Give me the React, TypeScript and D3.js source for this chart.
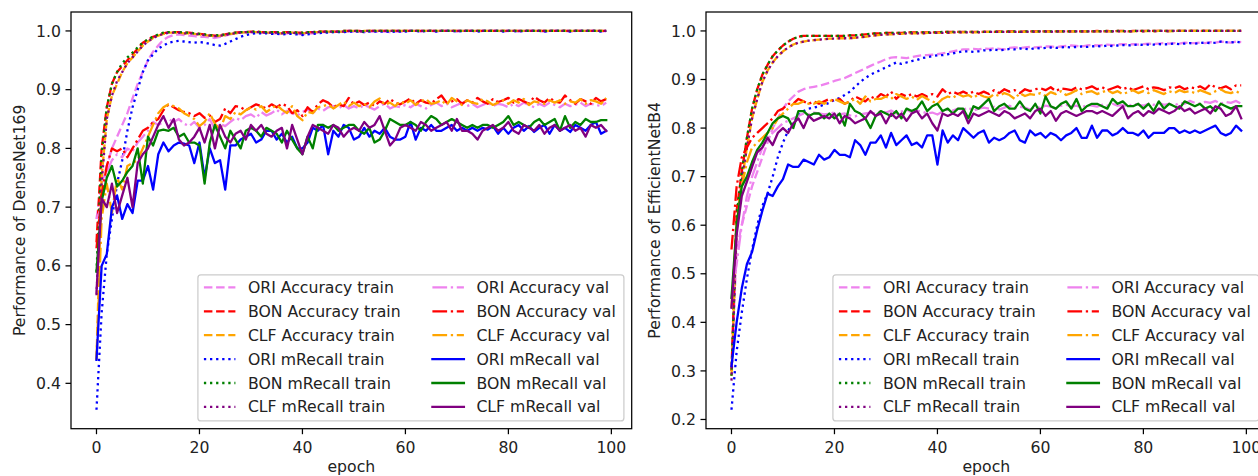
import React from 'react';
import * as d3 from 'd3';

// ---------- categories / ticks ----------
const epochs: number[] = d3.range(0, 100);
const xTicks = [0, 20, 40, 60, 80, 100];
const yTicksDense = [0.4, 0.5, 0.6, 0.7, 0.8, 0.9, 1.0];
const yTicksEff = [0.2, 0.3, 0.4, 0.5, 0.6, 0.7, 0.8, 0.9, 1.0];

const seriesLabels = [
  'ORI Accuracy train', 'BON Accuracy train', 'CLF Accuracy train',
  'ORI mRecall train', 'BON mRecall train', 'CLF mRecall train',
  'ORI Accuracy val', 'BON Accuracy val', 'CLF Accuracy val',
  'ORI mRecall val', 'BON mRecall val', 'CLF mRecall val',
];
const seriesColors = [
  '#ee82ee', '#ff0000', '#ffa500', '#0000ff', '#008000', '#800080',
  '#ee82ee', '#ff0000', '#ffa500', '#0000ff', '#008000', '#800080',
];
const seriesStyles = [
  'dashed', 'dashed', 'dashed', 'dotted', 'dotted', 'dotted',
  'dashdot', 'dashdot', 'dashdot', 'solid', 'solid', 'solid',
];

// ---------- DenseNet169 ----------
const dOriAccTrain = [
  .68,.74,.77,.80,.82,.84,.86,.885,.91,.93,
  .95,.965,.975,.985,.99,.993,.994,.993,.992,.991,
  .99,.99,.989,.988,.99,.992,.994,.996,.997,.998,
  .998,.998,.997,.997,.996,.996,.995,.996,.997,.995,
  .994,.995,.996,.997,.998,.998,.998,.999,.998,.999,
  .999,.999,.998,.999,.999,.999,.999,.998,.999,.999,
  .999,1,1,.999,1,1,.999,1,1,1,
  .999,1,1,1,.999,1,1,1,1,.999,
  1,1,.999,1,1,1,1,.999,1,1,
  1,1,.999,1,1,1,1,1,.999,1];
const dBonAccTrain = [
  .64,.80,.87,.91,.93,.94,.95,.96,.97,.98,
  .985,.99,.993,.996,.998,.998,.998,.997,.997,.996,
  .995,.994,.993,.992,.993,.994,.996,.997,.998,.998,
  .999,.999,.998,.998,.998,.998,.997,.998,.998,.997,
  .997,.998,.998,.999,.999,.999,.999,.999,1,1,
  1,1,.999,1,1,1,1,1,1,1,
  1,1,1,1,1,1,1,1,1,1,
  1,1,1,1,1,1,1,1,1,1,
  1,1,1,1,1,1,1,1,1,1,
  1,1,1,1,1,1,1,1,1,1];
const dClfAccTrain = [
  .44,.75,.85,.89,.91,.93,.945,.955,.965,.975,
  .982,.988,.992,.995,.997,.997,.997,.996,.996,.995,
  .994,.993,.992,.991,.992,.993,.995,.996,.997,.998,
  .998,.998,.998,.997,.997,.997,.996,.997,.997,.996,
  .996,.997,.998,.998,.999,.999,.999,.999,.999,1,
  1,.999,1,1,1,1,1,1,1,1,
  1,1,1,1,1,1,1,1,1,1,
  1,1,1,1,1,1,1,1,1,1,
  1,1,1,1,1,1,1,1,1,1,
  1,1,1,1,1,1,1,1,1,1];
const dOriRecTrain = [
  .355,.52,.62,.68,.74,.78,.83,.87,.90,.93,
  .95,.96,.97,.975,.98,.982,.983,.982,.981,.98,
  .981,.98,.978,.976,.975,.978,.982,.986,.99,.993,
  .995,.996,.996,.996,.995,.995,.994,.995,.995,.994,
  .993,.994,.995,.996,.997,.997,.998,.998,.998,.999,
  .999,.999,.998,.999,.999,.999,.999,.998,.999,.999,
  .999,1,1,.999,1,1,.999,1,1,1,
  .999,1,1,1,.999,1,1,1,1,.999,
  1,1,.999,1,1,1,1,.999,1,1,
  1,1,.999,1,1,1,1,1,.999,1];
const dBonRecTrain = [
  .59,.79,.87,.91,.93,.945,.955,.963,.972,.98,
  .986,.99,.994,.997,.998,.998,.998,.997,.997,.996,
  .995,.994,.993,.992,.993,.994,.996,.997,.998,.998,
  .999,.999,.998,.998,.998,.998,.997,.998,.998,.997,
  .997,.998,.998,.999,.999,.999,.999,.999,1,1,
  1,1,.999,1,1,1,1,1,1,1,
  1,1,1,1,1,1,1,1,1,1,
  1,1,1,1,1,1,1,1,1,1,
  1,1,1,1,1,1,1,1,1,1,
  1,1,1,1,1,1,1,1,1,1];
const dClfRecTrain = [
  .55,.74,.85,.89,.915,.93,.945,.955,.965,.975,
  .982,.988,.992,.995,.997,.997,.997,.996,.996,.995,
  .994,.993,.992,.991,.992,.993,.995,.996,.997,.998,
  .998,.998,.998,.997,.997,.997,.996,.997,.997,.996,
  .996,.997,.998,.998,.999,.999,.999,.999,.999,1,
  1,.999,1,1,1,1,1,1,1,1,
  1,1,1,1,1,1,1,1,1,1,
  1,1,1,1,1,1,1,1,1,1,
  1,1,1,1,1,1,1,1,1,1,
  1,1,1,1,1,1,1,1,1,1];
const dOriAccVal = [
  .68,.70,.76,.78,.79,.785,.80,.795,.81,.82,
  .83,.845,.84,.845,.85,.845,.85,.842,.838,.845,
  .835,.84,.85,.832,.842,.838,.845,.852,.848,.855,
  .858,.852,.862,.856,.86,.866,.858,.864,.86,.856,
  .862,.866,.86,.868,.864,.87,.872,.868,.874,.868,
  .872,.868,.874,.87,.866,.872,.876,.868,.872,.87,
  .874,.87,.876,.872,.868,.874,.878,.872,.876,.87,
  .874,.878,.872,.876,.87,.874,.878,.872,.876,.874,
  .87,.876,.872,.878,.874,.87,.876,.872,.878,.874,
  .87,.876,.872,.874,.878,.872,.876,.874,.872,.878];
const dBonAccVal = [
  .63,.72,.77,.80,.795,.80,.785,.80,.815,.83,
  .835,.845,.85,.865,.875,.87,.865,.862,.86,.855,
  .86,.852,.856,.845,.85,.868,.86,.872,.87,.865,
  .87,.875,.872,.868,.875,.87,.876,.872,.86,.865,
  .855,.87,.862,.875,.882,.878,.87,.875,.872,.886,
  .875,.88,.874,.878,.872,.88,.876,.884,.878,.875,
  .88,.885,.876,.882,.878,.876,.884,.89,.878,.88,
  .884,.876,.882,.878,.886,.88,.876,.884,.879,.882,
  .886,.878,.884,.88,.876,.888,.882,.878,.886,.88,
  .878,.89,.882,.876,.884,.88,.876,.886,.88,.884];
const dClfAccVal = [
  .44,.68,.74,.69,.75,.73,.77,.775,.78,.80,
  .82,.84,.86,.87,.875,.872,.868,.86,.855,.85,
  .838,.845,.86,.842,.832,.855,.85,.862,.858,.865,
  .87,.866,.872,.862,.868,.874,.866,.86,.872,.855,
  .848,.862,.86,.87,.872,.875,.868,.874,.88,.872,
  .878,.872,.876,.87,.88,.885,.874,.878,.872,.88,
  .876,.882,.874,.88,.884,.876,.878,.882,.874,.886,
  .88,.874,.882,.878,.876,.884,.88,.874,.878,.882,
  .876,.882,.878,.884,.874,.88,.878,.876,.882,.878,
  .882,.876,.88,.878,.884,.876,.882,.88,.876,.886];
const dOriRecVal = [
  .44,.60,.62,.70,.72,.68,.705,.69,.745,.745,
  .77,.73,.79,.81,.795,.805,.81,.808,.805,.775,
  .81,.75,.80,.775,.78,.73,.805,.805,.815,.82,
  .825,.81,.815,.83,.83,.815,.825,.81,.82,.80,
  .80,.81,.835,.83,.84,.79,.83,.82,.84,.835,
  .815,.82,.835,.82,.83,.825,.835,.82,.815,.815,
  .82,.845,.815,.835,.83,.84,.83,.83,.835,.84,
  .83,.835,.83,.835,.83,.835,.832,.838,.825,.835,
  .825,.835,.84,.83,.838,.828,.835,.84,.825,.84,
  .83,.835,.828,.84,.835,.83,.84,.845,.825,.83];
const dBonRecVal = [
  .59,.71,.75,.77,.735,.745,.76,.77,.80,.74,
  .82,.805,.83,.832,.83,.835,.82,.825,.81,.81,
  .805,.74,.81,.84,.82,.80,.83,.815,.80,.83,
  .835,.83,.82,.835,.83,.825,.81,.83,.815,.80,
  .79,.82,.80,.84,.84,.835,.84,.83,.835,.84,
  .84,.83,.825,.835,.81,.815,.83,.85,.845,.84,
  .84,.845,.84,.83,.845,.855,.85,.84,.845,.85,
  .845,.84,.835,.84,.835,.84,.84,.835,.84,.845,
  .855,.84,.845,.84,.835,.845,.85,.84,.845,.85,
  .83,.855,.835,.845,.84,.85,.845,.845,.848,.848];
const dClfRecVal = [
  .555,.715,.70,.74,.69,.72,.75,.70,.775,.79,
  .80,.82,.84,.855,.835,.85,.815,.805,.81,.82,
  .835,.81,.84,.80,.84,.82,.81,.825,.83,.815,
  .84,.83,.84,.825,.82,.83,.835,.80,.84,.815,
  .79,.82,.84,.835,.83,.825,.84,.835,.82,.83,
  .835,.83,.845,.835,.84,.855,.83,.805,.815,.835,
  .84,.835,.83,.845,.84,.83,.835,.84,.845,.83,
  .85,.83,.83,.825,.815,.83,.835,.84,.83,.835,
  .845,.83,.825,.84,.835,.83,.84,.825,.835,.84,
  .83,.835,.84,.83,.835,.82,.84,.835,.84,.83];

// ---------- EfficientNetB4 ----------
const eOriAccTrain = [
  .30,.55,.60,.64,.68,.71,.74,.77,.80,.82,
  .84,.855,.865,.875,.88,.883,.885,.887,.89,.893,
  .897,.90,.903,.908,.913,.918,.923,.928,.933,.937,
  .942,.945,.946,.945,.944,.946,.948,.95,.95,.951,
  .952,.954,.956,.958,.96,.962,.962,.963,.962,.964,
  .963,.964,.963,.962,.965,.966,.965,.966,.967,.966,
  .967,.968,.968,.967,.968,.969,.97,.969,.968,.97,
  .971,.97,.971,.972,.971,.972,.973,.972,.973,.972,
  .973,.974,.973,.974,.975,.974,.975,.974,.976,.975,
  .975,.976,.975,.977,.976,.978,.977,.976,.978,.977];
const eBonAccTrain = [
  .30,.63,.71,.78,.84,.88,.91,.93,.948,.96,
  .97,.978,.984,.988,.99,.99,.99,.99,.99,.99,
  .99,.99,.99,.991,.991,.992,.993,.994,.995,.995,
  .996,.996,.996,.996,.997,.997,.997,.997,.997,.997,
  .997,.998,.998,.998,.998,.998,.998,.998,.998,.998,
  .998,.998,.999,.998,.999,.999,.998,.999,.999,.999,
  .999,.999,.999,.999,.999,.999,.999,.999,.999,.999,
  .999,1,.999,1,.999,1,1,.999,1,1,
  1,1,1,1,1,1,1,1,1,1,
  1,1,1,1,1,1,1,1,1,1];
const eClfAccTrain = [
  .29,.60,.69,.76,.82,.86,.895,.918,.935,.948,
  .958,.966,.972,.976,.978,.98,.981,.982,.983,.984,
  .984,.985,.985,.985,.986,.987,.988,.99,.991,.992,
  .993,.993,.994,.994,.995,.995,.995,.995,.996,.996,
  .996,.996,.996,.997,.997,.997,.997,.997,.997,.998,
  .998,.998,.998,.998,.998,.998,.998,.998,.999,.998,
  .999,.999,.998,.999,.999,.999,.999,.999,.999,.999,
  .999,.999,.999,.999,.999,.999,.999,.999,.999,1,
  .999,1,.999,1,1,.999,1,1,1,1,
  1,1,1,1,1,1,1,1,1,1];
const eOriRecTrain = [
  .22,.34,.42,.49,.55,.60,.64,.665,.70,.74,
  .77,.795,.81,.825,.835,.84,.842,.845,.848,.852,
  .858,.862,.868,.875,.885,.895,.903,.91,.915,.92,
  .925,.93,.935,.932,.935,.938,.94,.944,.946,.948,
  .95,.95,.952,.954,.956,.958,.958,.957,.958,.96,
  .96,.962,.96,.961,.963,.962,.964,.963,.962,.965,
  .964,.965,.966,.965,.966,.967,.966,.967,.968,.967,
  .968,.969,.968,.97,.969,.97,.971,.97,.971,.972,
  .971,.972,.972,.973,.972,.973,.974,.973,.974,.975,
  .974,.975,.976,.975,.976,.978,.977,.976,.978,.976];
const eBonRecTrain = [
  .29,.62,.71,.78,.84,.88,.91,.93,.948,.96,
  .97,.978,.984,.988,.99,.99,.99,.99,.99,.99,
  .99,.99,.99,.991,.991,.992,.993,.994,.995,.995,
  .996,.996,.996,.996,.997,.997,.997,.997,.997,.997,
  .997,.998,.998,.998,.998,.998,.998,.998,.998,.998,
  .998,.998,.999,.998,.999,.999,.998,.999,.999,.999,
  .999,.999,.999,.999,.999,.999,.999,.999,.999,.999,
  .999,1,.999,1,.999,1,1,.999,1,1,
  1,1,1,1,1,1,1,1,1,1,
  1,1,1,1,1,1,1,1,1,1];
const eClfRecTrain = [
  .28,.59,.69,.76,.82,.86,.895,.918,.935,.948,
  .958,.966,.972,.976,.978,.98,.981,.982,.983,.984,
  .984,.985,.985,.985,.986,.987,.988,.99,.991,.992,
  .993,.993,.994,.994,.995,.995,.995,.995,.996,.996,
  .996,.996,.996,.997,.997,.997,.997,.997,.997,.998,
  .998,.998,.998,.998,.998,.998,.998,.998,.999,.998,
  .999,.999,.998,.999,.999,.999,.999,.999,.999,.999,
  .999,.999,.999,.999,.999,.999,.999,.999,.999,1,
  .999,1,.999,1,1,.999,1,1,1,1,
  1,1,1,1,1,1,1,1,1,1];
const eOriAccVal = [
  .45,.52,.60,.66,.70,.73,.76,.78,.79,.80,
  .81,.815,.82,.825,.83,.828,.832,.83,.828,.83,
  .832,.828,.83,.826,.824,.828,.83,.832,.83,.835,
  .832,.836,.83,.834,.838,.832,.836,.834,.83,.832,
  .828,.834,.838,.836,.84,.838,.842,.836,.84,.842,
  .84,.844,.838,.842,.846,.84,.844,.842,.838,.844,
  .842,.846,.844,.84,.846,.848,.844,.846,.842,.848,
  .846,.844,.848,.846,.85,.846,.848,.844,.85,.848,
  .846,.85,.848,.852,.848,.85,.846,.852,.85,.856,
  .852,.85,.854,.852,.856,.85,.854,.852,.856,.85];
const eBonAccVal = [
  .55,.68,.74,.76,.78,.79,.80,.81,.82,.835,
  .84,.85,.85,.86,.855,.85,.855,.85,.855,.86,
  .855,.86,.85,.855,.865,.86,.855,.865,.86,.87,
  .865,.875,.86,.87,.865,.87,.865,.87,.865,.87,
  .865,.88,.87,.875,.87,.875,.87,.875,.87,.875,
  .87,.878,.872,.88,.875,.878,.872,.88,.876,.88,
  .882,.878,.884,.876,.882,.88,.878,.884,.88,.882,
  .886,.88,.884,.878,.882,.886,.88,.884,.878,.882,
  .886,.88,.884,.882,.878,.884,.882,.886,.88,.884,
  .882,.886,.88,.89,.884,.882,.886,.88,.888,.888];
const eClfAccVal = [
  .43,.60,.68,.73,.76,.77,.78,.79,.80,.82,
  .83,.84,.85,.85,.855,.85,.85,.855,.85,.855,
  .86,.855,.85,.855,.86,.85,.865,.855,.86,.86,
  .865,.86,.87,.865,.86,.865,.858,.866,.86,.855,
  .85,.86,.865,.862,.87,.865,.868,.862,.87,.865,
  .862,.87,.866,.872,.868,.86,.872,.866,.87,.868,
  .872,.866,.874,.87,.876,.868,.872,.878,.87,.874,
  .876,.87,.874,.878,.872,.876,.87,.874,.878,.872,
  .876,.872,.878,.874,.87,.876,.872,.878,.874,.876,
  .872,.878,.874,.87,.876,.88,.874,.872,.876,.87];
const eOriRecVal = [
  .31,.40,.47,.52,.545,.59,.63,.665,.66,.68,
  .695,.725,.72,.72,.735,.73,.725,.745,.735,.74,
  .755,.745,.745,.74,.775,.765,.745,.77,.77,.785,
  .76,.79,.765,.775,.785,.765,.77,.76,.785,.785,
  .725,.795,.77,.785,.775,.80,.79,.78,.79,.795,
  .77,.78,.775,.78,.79,.795,.775,.77,.795,.785,
  .79,.78,.79,.785,.775,.785,.79,.80,.78,.78,
  .805,.78,.795,.795,.785,.79,.80,.79,.79,.785,
  .795,.78,.79,.79,.79,.80,.80,.79,.795,.79,
  .795,.79,.795,.80,.805,.79,.785,.79,.805,.795];
const eBonRecVal = [
  .45,.60,.68,.70,.73,.755,.77,.79,.81,.82,
  .825,.82,.80,.835,.835,.825,.83,.83,.82,.83,
  .82,.83,.805,.85,.835,.83,.82,.80,.825,.835,
  .83,.825,.835,.82,.84,.835,.84,.855,.835,.845,
  .85,.835,.84,.83,.84,.84,.82,.845,.84,.85,
  .86,.835,.845,.85,.84,.84,.855,.84,.835,.85,
  .83,.865,.845,.84,.85,.855,.84,.86,.835,.845,
  .85,.85,.845,.84,.86,.85,.855,.845,.845,.85,
  .84,.85,.835,.855,.84,.85,.845,.84,.855,.85,
  .845,.85,.84,.845,.835,.85,.845,.84,.845,.845];
const eClfRecVal = [
  .43,.58,.66,.69,.72,.75,.76,.78,.765,.79,
  .80,.79,.81,.82,.80,.825,.815,.82,.825,.82,
  .83,.81,.825,.82,.81,.815,.82,.835,.825,.83,
  .81,.83,.82,.83,.815,.83,.835,.82,.83,.81,
  .795,.83,.825,.83,.825,.835,.81,.83,.825,.83,
  .835,.83,.825,.835,.83,.82,.825,.83,.82,.835,
  .84,.825,.835,.815,.83,.835,.83,.825,.83,.835,
  .835,.83,.835,.83,.825,.835,.845,.82,.83,.835,
  .825,.835,.83,.84,.835,.83,.835,.845,.835,.84,
  .83,.835,.84,.83,.845,.84,.825,.83,.845,.82];

const denseSeries = [
  dOriAccTrain, dBonAccTrain, dClfAccTrain, dOriRecTrain, dBonRecTrain, dClfRecTrain,
  dOriAccVal, dBonAccVal, dClfAccVal, dOriRecVal, dBonRecVal, dClfRecVal,
];
const effSeries = [
  eOriAccTrain, eBonAccTrain, eClfAccTrain, eOriRecTrain, eBonRecTrain, eClfRecTrain,
  eOriAccVal, eBonAccVal, eClfAccVal, eOriRecVal, eBonRecVal, eClfRecVal,
];

// ---------- styling ----------
const W = 1258;
const H = 476;
const FONT = "'DejaVu Sans', sans-serif";
const FS = 15.7;
const LW = 2.3;
const AX_LW = 1.25;

function dashFor(style: string): string | undefined {
  if (style === 'dashed') return `${3.7 * LW},${1.6 * LW}`;
  if (style === 'dotted') return `${1 * LW},${1.65 * LW}`;
  if (style === 'dashdot') return `${6.4 * LW},${1.6 * LW},${1 * LW},${1.6 * LW}`;
  return undefined;
}

type PanelProps = {
  id: string;
  left: number;
  width: number;
  top: number;
  bottom: number;
  yTicks: number[];
  ylabel: string;
  ylabelX: number;
  series: number[][];
};

function Panel({ id, left, width, top, bottom, yTicks, ylabel, ylabelX, series }: PanelProps) {
  const right = left + width;
  const x = d3.scaleLinear().domain([-4.95, 103.95]).range([left, right]);
  const all = series.flat();
  const lo = d3.min(all) as number;
  const hi = d3.max(all) as number;
  const pad = (hi - lo) * 0.05;
  const y = d3.scaleLinear().domain([lo - pad, hi + pad]).range([bottom, top]);
  const line = d3
    .line<number>()
    .x((_, i) => x(epochs[i]))
    .y((d) => y(d));
  const fmt = d3.format('.1f');

  const legW = 426;
  const legH = 146;
  const legRight = right - 7.8;
  const legLeft = legRight - legW;
  const legTop = bottom - 7.8 - legH;
  const rowY0 = legTop + 12.5;
  const rowStep = 23.9;

  return (
    <g>
      <defs>
        <clipPath id={`clip-${id}`}>
          <rect x={left} y={top} width={width} height={bottom - top} />
        </clipPath>
      </defs>
      <g clipPath={`url(#clip-${id})`}>
        {series.map((s, k) => (
          <path
            key={k}
            d={line(s) || ''}
            fill="none"
            stroke={seriesColors[k]}
            strokeWidth={LW}
            strokeDasharray={dashFor(seriesStyles[k])}
            strokeLinejoin="round"
            strokeLinecap={seriesStyles[k] === 'solid' ? 'square' : 'butt'}
          />
        ))}
      </g>
      <rect x={left} y={top} width={width} height={bottom - top} fill="none" stroke="#000" strokeWidth={AX_LW} />
      {xTicks.map((t) => (
        <g key={`x${t}`}>
          <line x1={x(t)} x2={x(t)} y1={bottom} y2={bottom + 5.5} stroke="#000" strokeWidth={AX_LW} />
          <text x={x(t)} y={bottom + 24} textAnchor="middle" fontFamily={FONT} fontSize={FS} fill="#222">
            {t}
          </text>
        </g>
      ))}
      {yTicks.map((t) => (
        <g key={`y${t}`}>
          <line x1={left - 5.5} x2={left} y1={y(t)} y2={y(t)} stroke="#000" strokeWidth={AX_LW} />
          <text x={left - 10} y={y(t) + 5.6} textAnchor="end" fontFamily={FONT} fontSize={FS} fill="#222">
            {fmt(t)}
          </text>
        </g>
      ))}
      <text x={(left + right) / 2} y={472} textAnchor="middle" fontFamily={FONT} fontSize={FS} fill="#222">
        epoch
      </text>
      <text
        transform={`translate(${ylabelX},${(top + bottom) / 2}) rotate(-90)`}
        textAnchor="middle"
        fontFamily={FONT}
        fontSize={FS}
        fill="#222"
      >
        {ylabel}
      </text>
      <rect
        x={legLeft}
        y={legTop}
        width={legW}
        height={legH}
        rx={3}
        ry={3}
        fill="#fff"
        fillOpacity={0.8}
        stroke="#cccccc"
        strokeWidth={AX_LW}
      />
      {seriesLabels.map((lab, k) => {
        const col = Math.floor(k / 6);
        const row = k % 6;
        const cy = rowY0 + row * rowStep;
        const hx = legLeft + 6 + col * 228.5;
        return (
          <g key={lab}>
            <line
              x1={hx}
              x2={hx + 31.5}
              y1={cy}
              y2={cy}
              stroke={seriesColors[k]}
              strokeWidth={LW}
              strokeDasharray={dashFor(seriesStyles[k])}
              strokeLinecap={seriesStyles[k] === 'solid' ? 'square' : 'butt'}
            />
            <text x={hx + 44} y={cy + 5.5} fontFamily={FONT} fontSize={FS} fill="#222">
              {lab}
            </text>
          </g>
        );
      })}
    </g>
  );
}

export default function App() {
  return (
    <svg
      width={W}
      height={H}
      viewBox={`0 0 ${W} ${H}`}
      style={{ position: 'absolute', left: 0, top: 0, background: '#fff' }}
    >
      <rect x={0} y={0} width={W} height={H} fill="#fff" />
      <Panel
        id="dense"
        left={71}
        width={560.7}
        top={12}
        bottom={428.7}
        yTicks={yTicksDense}
        ylabel="Performance of DenseNet169"
        ylabelX={24.5}
        series={denseSeries}
      />
      <Panel
        id="eff"
        left={706}
        width={560.7}
        top={12}
        bottom={428.7}
        yTicks={yTicksEff}
        ylabel="Performance of EfficientNetB4"
        ylabelX={659.7}
        series={effSeries}
      />
    </svg>
  );
}
